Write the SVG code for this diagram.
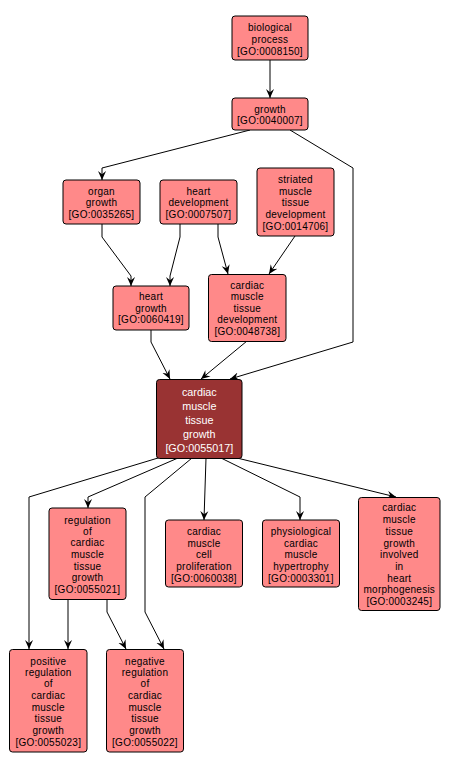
<svg xmlns="http://www.w3.org/2000/svg" width="450" height="769" viewBox="0 0 450 769">
<style>
.n rect{fill:#ff8989;stroke:#000;stroke-width:1}
.n text{font-family:"Liberation Sans",Arial,sans-serif;font-size:10px;letter-spacing:0.25px;text-anchor:middle;fill:#000}
.d rect{fill:#993333;stroke:#000;stroke-width:1}
.d text{font-family:"Liberation Sans",Arial,sans-serif;font-size:10.8px;text-anchor:middle;fill:#fff}
.e polyline{fill:none;stroke:#000;stroke-width:1;marker-end:url(#a)}
</style>
<defs>
<marker id="a" viewBox="0 0 10 10" refX="10" refY="5" markerWidth="9" markerHeight="9" markerUnits="userSpaceOnUse" orient="auto">
<path d="M0,0.5 L10,5 L0,9.5 L3.5,5 z" fill="#000"/>
</marker>
</defs>
<rect width="450" height="769" fill="#fff"/>
<g class="e" id="edges">
<polyline points="270,60 270,98"/>
<polyline points="250,130 102,168 102,180"/>
<polyline points="290,130 353,168 353,342 230,379"/>
<polyline points="102,224 102,237 131,276 131,286"/>
<polyline points="180,224 180,237 170,276 170,286"/>
<polyline points="218,224 218,237 228,274"/>
<polyline points="295,236 269,274"/>
<polyline points="151,330 151,342 170,379"/>
<polyline points="247,341 201,379"/>
<polyline points="158,458 29,497 29,649"/>
<polyline points="178,458 88,497 88,508"/>
<polyline points="192,458 145,497 145,612 164,649"/>
<polyline points="206,458 204,520"/>
<polyline points="221,458 300,497 300,520"/>
<polyline points="237,458 396,497"/>
<polyline points="68,599 68,649"/>
<polyline points="107,599 107,612 126,649"/>
</g>
<g class="n" id="GO0008150"><rect x="232" y="16" width="76" height="44" rx="3"/>
<text x="270" y="30.5">biological</text><text x="270" y="42.5">process</text><text x="270" y="54.5">[GO:0008150]</text></g>
<g class="n" id="GO0040007"><rect x="232" y="98" width="76" height="32" rx="3"/>
<text x="270" y="112.5">growth</text><text x="270" y="123.5">[GO:0040007]</text></g>
<g class="n" id="GO0035265"><rect x="63" y="180" width="77" height="44" rx="3"/>
<text x="101.5" y="194.5">organ</text><text x="101.5" y="206">growth</text><text x="101.5" y="217.5">[GO:0035265]</text></g>
<g class="n" id="GO0007507"><rect x="160" y="180" width="77" height="44" rx="3"/>
<text x="198.5" y="194.5">heart</text><text x="198.5" y="206">development</text><text x="198.5" y="217.5">[GO:0007507]</text></g>
<g class="n" id="GO0014706"><rect x="257" y="168" width="77" height="68" rx="3"/>
<text x="295.5" y="183">striated</text><text x="295.5" y="194.5">muscle</text><text x="295.5" y="206">tissue</text><text x="295.5" y="217.5">development</text><text x="295.5" y="229.5">[GO:0014706]</text></g>
<g class="n" id="GO0060419"><rect x="113" y="286" width="76" height="44" rx="3"/>
<text x="151" y="300">heart</text><text x="151" y="312">growth</text><text x="151" y="323">[GO:0060419]</text></g>
<g class="n" id="GO0048738"><rect x="208.5" y="274.5" width="77.5" height="67" rx="3"/>
<text x="247.3" y="288.5">cardiac</text><text x="247.3" y="300">muscle</text><text x="247.3" y="312">tissue</text><text x="247.3" y="323">development</text><text x="247.3" y="335">[GO:0048738]</text></g>
<g class="d" id="GO0055017"><rect x="156.5" y="379.5" width="85.5" height="79" rx="3"/>
<text x="199.3" y="396">cardiac</text><text x="199.3" y="410">muscle</text><text x="199.3" y="424">tissue</text><text x="199.3" y="438">growth</text><text x="199.3" y="452">[GO:0055017]</text></g>
<g class="n" id="GO0055021"><rect x="49" y="508" width="77" height="91.5" rx="3"/>
<text x="87.5" y="523.5">regulation</text><text x="87.5" y="535">of</text><text x="87.5" y="546">cardiac</text><text x="87.5" y="558">muscle</text><text x="87.5" y="569.5">tissue</text><text x="87.5" y="581">growth</text><text x="87.5" y="593">[GO:0055021]</text></g>
<g class="n" id="GO0060038"><rect x="165.5" y="520" width="77" height="67" rx="3"/>
<text x="204" y="535">cardiac</text><text x="204" y="546.5">muscle</text><text x="204" y="558">cell</text><text x="204" y="570">proliferation</text><text x="204" y="581.5">[GO:0060038]</text></g>
<g class="n" id="GO0003301"><rect x="262.5" y="520" width="77" height="67" rx="3"/>
<text x="301" y="535">physiological</text><text x="301" y="546.5">cardiac</text><text x="301" y="558">muscle</text><text x="301" y="570">hypertrophy</text><text x="301" y="581.5">[GO:0003301]</text></g>
<g class="n" id="GO0003245"><rect x="358.5" y="497.5" width="81.5" height="113" rx="3"/>
<text x="399.3" y="511">cardiac</text><text x="399.3" y="523">muscle</text><text x="399.3" y="535">tissue</text><text x="399.3" y="546.5">growth</text><text x="399.3" y="558">involved</text><text x="399.3" y="570">in</text><text x="399.3" y="581.5">heart</text><text x="399.3" y="593">morphogenesis</text><text x="399.3" y="605">[GO:0003245]</text></g>
<g class="n" id="GO0055023"><rect x="9.5" y="649.5" width="77.5" height="102.5" rx="3"/>
<text x="48.3" y="664.5">positive</text><text x="48.3" y="675.5">regulation</text><text x="48.3" y="687">of</text><text x="48.3" y="699">cardiac</text><text x="48.3" y="711">muscle</text><text x="48.3" y="722">tissue</text><text x="48.3" y="734">growth</text><text x="48.3" y="745.5">[GO:0055023]</text></g>
<g class="n" id="GO0055022"><rect x="106.5" y="649.5" width="77" height="102.5" rx="3"/>
<text x="145" y="664.5">negative</text><text x="145" y="675.5">regulation</text><text x="145" y="687">of</text><text x="145" y="699">cardiac</text><text x="145" y="711">muscle</text><text x="145" y="722">tissue</text><text x="145" y="734">growth</text><text x="145" y="745.5">[GO:0055022]</text></g>
</svg>
